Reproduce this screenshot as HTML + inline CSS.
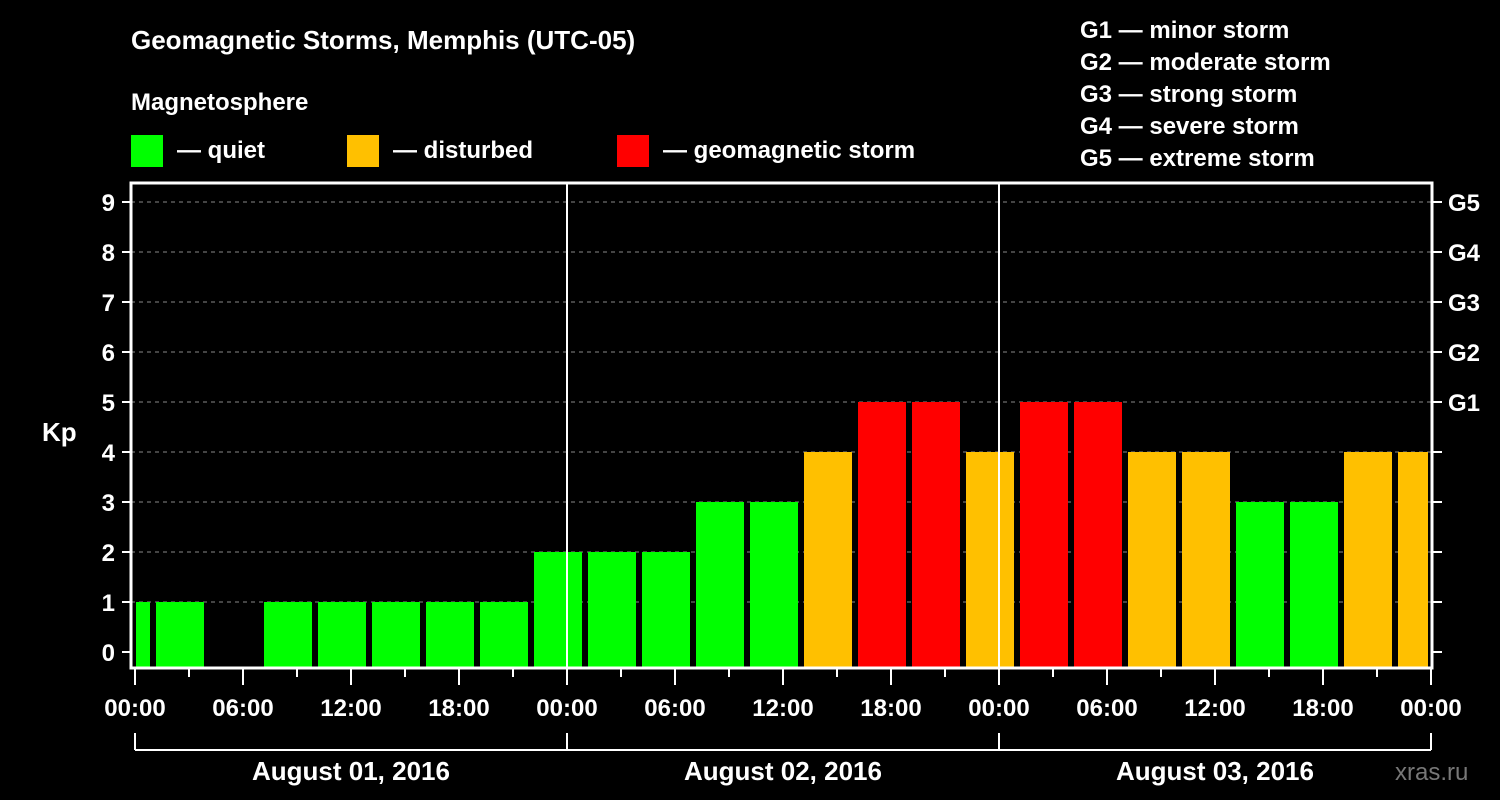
<!DOCTYPE html>
<html><head><meta charset="utf-8"><style>
body{margin:0;background:#000;width:1500px;height:800px;overflow:hidden}
svg{display:block;font-family:"Liberation Sans",Arial,sans-serif;font-weight:bold;fill:#fff}
</style></head><body>
<svg id="c" width="1500" height="800">
<text x="131" y="49" font-size="26">Geomagnetic Storms, Memphis (UTC-05)</text>
<text x="131" y="110" font-size="24">Magnetosphere</text>
<g><rect x="131" y="135" width="32" height="32" fill="#00ff00"/><text x="177" y="158" font-size="24">— quiet</text></g>
<g><rect x="347" y="135" width="32" height="32" fill="#ffc000"/><text x="393" y="158" font-size="24">— disturbed</text></g>
<g><rect x="617" y="135" width="32" height="32" fill="#ff0000"/><text x="663" y="158" font-size="24">— geomagnetic storm</text></g>
<g font-size="24">
<text x="1080" y="38">G1 — minor storm</text><text x="1080" y="70">G2 — moderate storm</text><text x="1080" y="102">G3 — strong storm</text><text x="1080" y="134">G4 — severe storm</text><text x="1080" y="166">G5 — extreme storm</text></g>
<text x="42" y="441" font-size="26">Kp</text>
<text x="1395" y="780" font-size="24" fill="#777" style="fill:#777;font-weight:normal">xras.ru</text>
<g id="g"></g>
</svg>
<script>
const kpValues=[1,1,0,1,1,1,1,1,2,2,2,3,3,4,5,5,4,5,5,4,4,3,3,4,4];
const hourTicks=["00:00","06:00","12:00","18:00","00:00","06:00","12:00","18:00","00:00","06:00","12:00","18:00","00:00"];
const dayLabels=["August 01, 2016","August 02, 2016","August 03, 2016"];
const gLabels=["G1","G2","G3","G4","G5"];
const yTicks=[0,1,2,3,4,5,6,7,8,9];
const NS="http://www.w3.org/2000/svg",g=document.getElementById('g');
const X0=135,PH=18,L=131,R=1432,T=183,B=668;
const x=h=>X0+h*PH, y=v=>652-v*50;
function mk(t,a,txt){const e=document.createElementNS(NS,t);for(const k in a)e.setAttribute(k,a[k]);if(txt!=null)e.textContent=txt;g.appendChild(e);return e;}
yTicks.forEach(v=>{
 if(v>0){const e=mk('line',{x1:L,x2:R,y1:y(v),y2:y(v),stroke:'#888','stroke-dasharray':'4 4'});}
 mk('line',{x1:122,x2:L,y1:y(v),y2:y(v),stroke:'#fff','stroke-width':2});
 mk('line',{x1:R,x2:R+10,y1:y(v),y2:y(v),stroke:'#fff','stroke-width':2});
 const t=mk('text',{x:115,y:y(v)+9,'font-size':24,'text-anchor':'end'},v);
});
gLabels.forEach((s,i)=>{const t=mk('text',{x:1448,y:y(5+i)+9,'font-size':24},s);});
kpValues.forEach((v,i)=>{
 const s=-2+3*i,e=s+3;let a=x(s)+3,b=x(e)-3;a=Math.max(a,L+5);b=Math.min(b,R-4);
 const c=v>=5?'#ff0000':v>=4?'#ffc000':'#00ff00';
 if(v>0){const r=mk('rect',{x:a,y:y(v),width:b-a,height:B-y(v),fill:c});}
});
[24,48].forEach(h=>mk('line',{x1:x(h),x2:x(h),y1:T,y2:B,stroke:'#fff','stroke-width':2}));
const fr=mk('rect',{x:L,y:T,width:R-L,height:B-T,fill:'none',stroke:'#fff','stroke-width':3});
for(let h=0;h<=72;h+=3){mk('line',{x1:x(h),x2:x(h),y1:B,y2:h%6?677:685,stroke:'#fff','stroke-width':2});}
hourTicks.forEach((s,i)=>{const t=mk('text',{x:x(i*6),y:716,'font-size':24,'text-anchor':'middle'},s);});
mk('line',{x1:x(0),x2:x(72),y1:750,y2:750,stroke:'#fff','stroke-width':2});
for(let d=0;d<=3;d++)mk('line',{x1:x(d*24),x2:x(d*24),y1:733,y2:750,stroke:'#fff','stroke-width':2});
dayLabels.forEach((s,i)=>{const t=mk('text',{x:x(i*24+12),y:780,'font-size':26,'text-anchor':'middle'},s);});
</script>
</body></html>
